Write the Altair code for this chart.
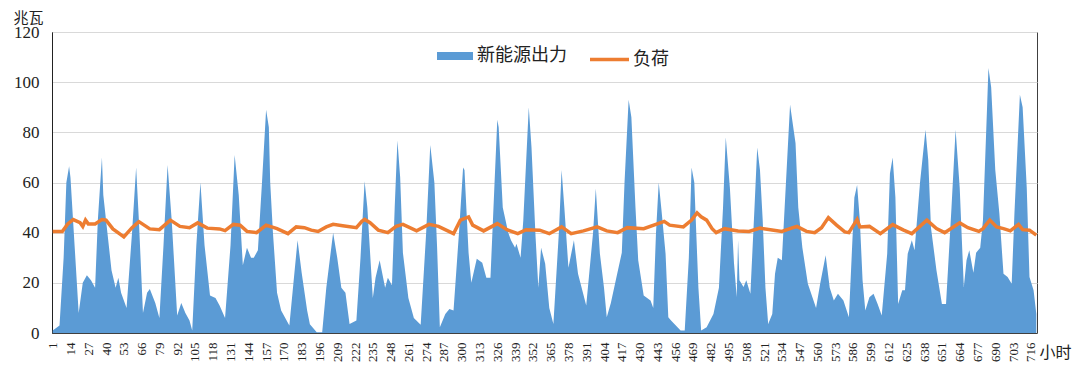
import altair as alt
import pandas as pd

# ---- data (hour, value) ----
re_hours = [1, 6, 9, 11, 13, 14, 17, 20, 23, 26, 29, 32, 34, 37, 38, 40, 42, 44, 47, 49, 51, 55, 59, 62, 64, 67, 70, 72, 76, 79,
            82, 85, 88, 92, 95, 98, 101, 103, 106, 109, 112, 116, 120, 123, 127, 131, 134, 137, 140, 143, 146, 148, 151, 154, 157, 159, 160, 162, 165, 168,
            174, 177, 180, 183, 187, 189, 194, 198, 201, 206, 209, 212, 215, 218, 223, 226, 229, 231, 233, 235, 237, 240, 244, 246, 249, 251, 253, 255, 257, 261,
            265, 270, 274, 277, 280, 282, 284, 288, 291, 294, 298, 301, 302, 305, 307, 311, 315, 318, 321, 324, 326, 327, 330, 334, 336, 339, 340, 343, 345, 349,
            351, 354, 356, 358, 361, 364, 367, 371, 373, 375, 378, 382, 385, 391, 396, 398, 401, 404, 406, 409, 413, 417, 419, 422, 424, 427, 429, 433, 438, 440,
            442, 444, 446, 449, 451, 453, 460, 463, 466, 468, 470, 473, 475, 479, 484, 488, 491, 493, 496, 499, 501, 502, 503, 506, 508, 511, 514, 516, 518, 520,
            522, 524, 527, 529, 531, 534, 537, 540, 544, 546, 549, 553, 559, 562, 566, 569, 572, 575, 579, 583, 587, 589, 591, 593, 595, 598, 601, 604, 607, 611,
            613, 615, 617, 619, 622, 624, 626, 629, 631, 635, 639, 641, 643, 647, 651, 654, 658, 661, 664, 667, 669, 671, 674, 676, 679, 681, 684, 685, 687, 690,
            693, 696, 699, 702, 704, 708, 710, 713, 715, 718, 720]
re_values = [1, 3, 30, 60, 66.5, 62, 35, 8, 20, 23, 21, 18, 45, 70, 55, 45, 35, 25, 18, 22, 16, 10, 40, 66, 45, 8, 16, 17.5, 12, 6,
             35, 67, 45, 7, 12, 8, 5, 1, 35, 60, 35, 15, 14, 11, 6, 35, 71, 55, 27, 34, 30, 30, 33, 60, 89, 82, 60, 40, 16, 9,
             3, 20, 37, 24, 9, 3.5, 0.3, 0.3, 18, 40, 30, 18, 16, 3.6, 5, 30, 60.5, 50, 32, 14, 22, 29, 18, 22, 19, 50, 76.7, 62, 32, 14,
             6, 3.3, 40, 75, 60, 34, 2.3, 7.6, 9.6, 9, 40, 66, 65, 32, 20, 29.6, 28, 22, 22, 60, 85, 82, 50, 40, 37, 34, 35.6, 30, 45, 90,
             74, 38, 18, 34, 27.6, 10, 3.6, 40, 65, 50, 26, 37, 23.6, 11, 40, 57.6, 31.6, 18, 6.3, 12, 22, 32, 60, 93, 86, 50, 29, 15, 13, 10,
             40, 60, 49, 31.6, 6.3, 5, 1, 1, 30, 66, 60, 18, 1, 2.3, 7.6, 18, 50, 78, 58, 28, 14.3, 37, 21, 18.3, 21, 15.6, 50, 74, 65, 45,
             18, 3.6, 7.6, 23.6, 30, 29, 60, 91, 75.6, 50, 34, 19.6, 10, 19.6, 31, 18, 13, 15.6, 13, 6.3, 54, 59, 45, 21, 9, 14.3, 15.6, 11.6, 7, 31.6,
             63.6, 70, 54, 11.6, 17, 17, 31.6, 37, 33, 60, 81, 69, 42, 25, 11.6, 11.6, 50, 81, 58, 18.3, 29, 33, 24, 32, 34, 45, 90, 105.6, 98, 65,
             47.6, 23.6, 22.3, 19.6, 47.6, 95, 90, 58, 22.3, 17, 7.6]

load_hours = [1, 8, 12, 16, 21, 23, 25, 27, 32, 37, 40, 45, 50, 53, 59, 64, 72, 79, 87, 94, 101, 107, 114, 123, 127, 133, 138, 143, 150, 157,
              165, 173, 179, 185, 190, 195, 201, 206, 213, 223, 227, 229, 233, 239, 246, 252, 257, 267, 276, 283, 294, 299, 305, 308, 316, 326, 333, 341, 347, 357,
              364, 373, 380, 389, 399, 406, 414, 421, 433, 445, 448, 452, 462, 468, 472, 475, 479, 483, 486, 492, 502, 510, 518, 528, 534, 541, 545, 552, 558, 563,
              568, 574, 580, 583, 589, 591, 598, 606, 615, 623, 629, 640, 647, 653, 664, 670, 678, 681, 686, 691, 696, 701, 707, 710, 715, 720]
load_values = [40.5, 40.5, 43.5, 45.2, 44, 42.5, 45, 43.5, 43.5, 45.2, 45, 41.5, 39.5, 38.3, 42, 44.4, 41.5, 41.2, 45, 42.5, 42, 43.9, 41.8, 41.5, 40.8, 43.3, 43, 40.5, 40, 43,
               41.6, 39.6, 42.3, 42, 41, 40.5, 42.3, 43.3, 42.8, 42, 44.5, 45.3, 44, 41, 40, 42.5, 43.3, 40.7, 43.3, 42.5, 39.6, 45, 46.3, 43, 40.7, 43.6, 41.2, 39.6, 41.2, 41,
               39.6, 42.3, 39.6, 40.7, 42.3, 40.7, 40, 42, 41.6, 43.9, 44.5, 43, 42.3, 45, 47.9, 46.3, 45, 41.6, 40, 41.6, 40.7, 40.5, 41.8, 41, 40.5, 41.8, 42.5, 40.5, 40, 42,
               46, 43, 40.3, 40, 45.3, 42.3, 42.5, 39.6, 43.2, 41, 39.6, 45, 41.6, 40, 43.9, 42, 40.5, 41.6, 45, 42.3, 41.6, 40.7, 43.3, 41.2, 41, 39]

tick_hours = [1, 14, 27, 40, 53, 66, 79, 92, 105, 118, 131, 144, 157, 170, 183, 196, 209, 222, 235, 248, 261, 274, 287, 300,
              313, 326, 339, 352, 365, 378, 391, 404, 417, 430, 443, 456, 469, 482, 495, 508, 521, 534, 547, 560, 573, 586,
              599, 612, 625, 638, 651, 664, 677, 690, 703, 716]
y_ticks = [0, 20, 40, 60, 80, 100, 120]

SERIES_RE = "新能源出力"
SERIES_LOAD = "负荷"
BLUE = "#5B9BD5"
ORANGE = "#ED7D31"
SERIF = "Liberation Serif"
CJK = "Noto Sans CJK SC"

re_df = pd.DataFrame({"hour": re_hours, "value": re_values, "series": SERIES_RE})
load_df = pd.DataFrame({"hour": load_hours, "value": load_values, "series": SERIES_LOAD})

x_enc = alt.X(
    "hour:Q",
    scale=alt.Scale(domain=[0.5, 720.5], nice=False, zero=False),
    axis=alt.Axis(
        values=tick_hours, format="d", labelAngle=270, labelAlign="right", labelBaseline="middle",
        labelFont=SERIF, labelFontSize=13, labelColor="#222", labelPadding=9,
        labelOverlap=False, labelBound=False, labelFlush=False,
        ticks=False, grid=False, domainColor="#404040",
        title="小时", titleFont=CJK, titleFontSize=16, titleFontWeight="normal", titleColor="#222",
        titleAngle=0, titleAlign="left", titleBaseline="middle", titleX=987, titleY=19,
    ),
)
y_enc = alt.Y(
    "value:Q",
    scale=alt.Scale(domain=[0, 120], nice=False),
    axis=alt.Axis(
        values=y_ticks, labelFont=SERIF, labelFontSize=17, labelColor="#222", labelPadding=13,
        ticks=False, grid=True, gridColor="#D9D9D9", gridWidth=1, domainColor="#222",
        title="兆瓦", titleFont=CJK, titleFontSize=15, titleFontWeight="normal", titleColor="#222",
        titleAngle=0, titleAlign="center", titleBaseline="middle", titleX=-24, titleY=-15,
    ),
)

area = alt.Chart(re_df).mark_area(color=BLUE, opacity=1).encode(
    x=x_enc,
    y=y_enc,
    color=alt.Color(
        "series:N",
        scale=alt.Scale(domain=[SERIES_RE], range=[BLUE]),
        legend=alt.Legend(
            title=None, orient="none", legendX=385, legendY=6,
            symbolType="M-1,-0.22L1,-0.22L1,0.22L-1,0.22Z", symbolSize=1296, symbolOpacity=1,
            symbolStrokeWidth=0, labelFont=CJK, labelFontSize=18, labelColor="#222", labelOffset=4,
        ),
    ),
)

line = alt.Chart(load_df).mark_line(color=ORANGE, strokeWidth=3.5).encode(
    x=x_enc,
    y=y_enc,
    color=alt.Color(
        "series:N",
        scale=alt.Scale(domain=[SERIES_LOAD], range=[ORANGE]),
        legend=alt.Legend(
            title=None, orient="none", legendX=536, legendY=6,
            symbolType="stroke", symbolSize=1521, symbolStrokeWidth=3.5,
            labelFont=CJK, labelFontSize=18, labelColor="#222", labelOffset=2,
        ),
    ),
)

chart = (
    alt.layer(area, line)
    .resolve_scale(color="independent")
    .properties(
        width=985, height=301,
        autosize=alt.AutoSizeParams(type="none"),
        padding={"left": 44, "top": 24, "right": 35, "bottom": 34},
        background="white",
    )
    .configure_view(stroke="#404040", strokeWidth=1)
)

chart.save("out.html", embed_options={"renderer": "svg", "actions": False})
